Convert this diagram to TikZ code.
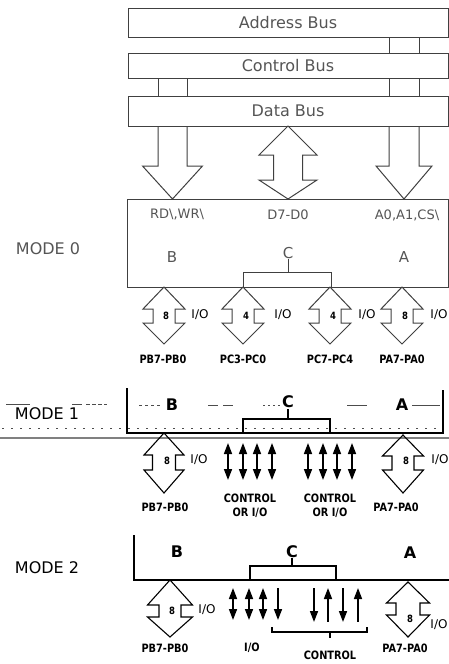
\documentclass[tikz,border=0pt]{standalone}
\usepackage{fontspec}
\setmainfont{DejaVu Sans}
\newfontfamily\condf[FakeStretch=0.85]{DejaVu Sans}
\usetikzlibrary{arrows.meta}
\definecolor{linegray}{HTML}{404040}
\definecolor{txtgray}{HTML}{555555}
\definecolor{sepgray}{HTML}{808080}
\newcommand\bigf{\fontsize{16}{18}\selectfont}
\newcommand\midf{\fontsize{13}{15}\selectfont}
\newcommand\labf{\condf\bfseries\fontsize{11.5}{13}\selectfont}
\newcommand\numf{\condf\bfseries\fontsize{10}{12}\selectfont}
\newcommand\iof{\fontsize{12}{14}\selectfont}
% hollow double arrow: [style]{x}{top}{bot}{head half}{shaft half}{Ltop}{Lbot}
\newcommand\hdbl[8][]{%
  \draw[#1] (#2,#3) -- ({#2+#5},{#3+#7}) -- ({#2+#6},{#3+#7}) -- ({#2+#6},{#4-#8})
   -- ({#2+#5},{#4-#8}) -- (#2,#4) -- ({#2-#5},{#4-#8}) -- ({#2-#6},{#4-#8})
   -- ({#2-#6},{#3+#7}) -- ({#2-#5},{#3+#7}) -- cycle;}
% hollow single down arrow: [style]{x}{top}{bot}{head half}{shaft half}{L}
\newcommand\hdown[7][]{%
  \draw[#1] ({#2-#6},#3) -- ({#2-#6},{#4-#7}) -- ({#2-#5},{#4-#7}) -- (#2,#4)
   -- ({#2+#5},{#4-#7}) -- ({#2+#6},{#4-#7}) -- ({#2+#6},#3);}
\tikzset{
  bus/.style={draw=linegray, line width=1pt, minimum width=320pt, inner sep=0pt, font=\bigf, text=txtgray},
  topline/.style={draw=linegray, line width=1pt, line join=miter},
  botline/.style={draw=black, line width=1.3pt, line join=miter},
  modelab/.style={inner sep=0pt, font=\bigf},
  letter/.style={inner sep=0pt, font=\fontsize{15}{17}\selectfont, text=txtgray},
  bletter/.style={inner sep=0pt, font=\bfseries\fontsize{16}{18}\selectfont},
  pinlab/.style={inner sep=0pt, font=\midf, text=txtgray},
  lab/.style={inner sep=0pt, font=\labf, align=center},
  num/.style={inner sep=0pt, font=\numf},
  io/.style={inner sep=0pt, font=\iof},
  dbl/.style={line width=1.6pt, {Triangle[width=8pt,length=11pt]}-{Triangle[width=8pt,length=11pt]}},
  dn/.style={line width=1.6pt, -{Triangle[width=8pt,length=11pt]}},
  up/.style={line width=1.6pt, {Triangle[width=8pt,length=11pt]}-},
  artefact/.style={draw=black!70, line width=0.6pt},
}
\begin{document}
\begin{tikzpicture}[x=1pt,y=-1pt]
\useasboundingbox (0,0) rectangle (449,664);
\fill[white] (0,0) rectangle (449,664);

% ---------- buses ----------
\node[bus, minimum height=29pt] (addr) at (288,22.5) {Address Bus};
\node[bus, minimum height=25.5pt] (ctrl) at (288,65.75) {Control Bus};
\node[bus, minimum height=30pt] (data) at (288,111) {Data Bus};
\draw[topline] (389,37) -- (389,53) (419,37) -- (419,53);
\draw[topline] (158,78.5) -- (158,96) (187,78.5) -- (187,96)
               (389,78.5) -- (389,96) (419,78.5) -- (419,96);
\hdown[topline]{172.5}{126}{199}{30}{14.5}{33}
\hdown[topline]{404}{126}{199}{28}{15}{33}
\hdbl[topline]{288}{126}{199}{29}{14.5}{29}{19}

% ---------- MODE 0 ----------
\node[modelab, text=txtgray] (m0lab) at (48,249) {MODE 0};
\node[draw=linegray, line width=1pt, minimum width=321pt, minimum height=88pt, inner sep=0pt] (m0) at (287.5,243) {};
\node[pinlab] (rdwr) at (177,215) {RD\textbackslash,WR\textbackslash};
\node[pinlab] (d70) at (288,215) {D7-D0};
\node[pinlab] (a01) at (407,215) {A0,A1,CS\textbackslash};
\node[letter] (m0b) at (172,257) {B};
\node[letter] (m0c) at (288,253) {C};
\node[letter] (m0a) at (404,257) {A};
\draw[topline] (m0c.south) -- (288,272) (243,287) -- (243,272) -- (331,272) -- (331,287);
\hdbl[topline]{164}{287}{344}{21}{11}{22}{21}
\hdbl[topline]{243}{287}{344}{21}{11}{22}{21}
\hdbl[topline]{330}{287}{344}{21}{11}{22}{21}
\hdbl[topline]{402}{287}{344}{21}{11}{22}{21}
\node[num] (n0a) at (166,316) {8};
\node[num] (n0b) at (246,316) {4};
\node[num] (n0c) at (333,316) {4};
\node[num] (n0d) at (405,316) {8};
\node[io] (io0a) at (200,315) {I/O};
\node[io] (io0b) at (283,315) {I/O};
\node[io] (io0c) at (367,315) {I/O};
\node[io] (io0d) at (439,315) {I/O};
\node[lab] (pb0) at (163,359) {PB7-PB0};
\node[lab] (pc30) at (243,359) {PC3-PC0};
\node[lab] (pc74) at (330,359) {PC7-PC4};
\node[lab] (pa0) at (402,359) {PA7-PA0};

% ---------- MODE 1 ----------
\draw[artefact] (6,404) -- (30,404) (72,404) -- (82,404);
\draw[artefact, dash pattern=on 4pt off 2pt] (86,404) -- (107,404);
\draw[artefact, dash pattern=on 3pt off 3pt] (139,405) -- (160,405);
\draw[artefact, dash pattern=on 10pt off 5pt] (208,405) -- (233,405);
\draw[artefact, dash pattern=on 2pt off 3pt] (263,405) -- (280,405);
\draw[artefact] (347,405) -- (367,405) (412,405) -- (440,405);
\draw[artefact, line width=0.5pt, dash pattern=on 2pt off 7pt] (2,428) -- (440,428);
\node[modelab] (m1lab) at (47,414) {MODE 1};
\draw[botline] (127,388) -- (127,433) -- (443,433) -- (443,390);
\draw[sepgray, line width=1.5pt] (0,438) -- (449,438);
\node[bletter, fill=white, inner sep=1pt] (m1b) at (172,405) {B};
\node[bletter, fill=white, inner sep=1pt] (m1c) at (288,402) {C};
\node[bletter, fill=white, inner sep=1pt] (m1a) at (402,405) {A};
\draw[botline, line width=1.1pt] (m1c.south) -- (288,419) (243,433) -- (243,419) -- (330,419) -- (330,433);
\hdbl[line width=1.1pt]{164}{433}{493}{20}{11.5}{22}{23}
\hdbl[line width=1.1pt]{403}{435}{493}{20.5}{11}{21}{23}
\node[num] (n1a) at (167,461) {8};
\node[num] (n1b) at (406,461) {8};
\node[io] (io1a) at (199,460) {I/O};
\node[io] (io1b) at (440,460) {I/O};
\foreach \xx in {228,243,257,272,308,323,337,352}
  \draw[dbl] (\xx,443) -- (\xx,480);
\node[lab] (c1a) at (250,498) {CONTROL};
\node[lab] (o1a) at (250,513) {OR I/O};
\node[lab] (c1b) at (330,498) {CONTROL};
\node[lab] (o1b) at (330,513) {OR I/O};
\node[lab] (pb1) at (165,507) {PB7-PB0};
\node[lab] (pa1) at (396,507) {PA7-PA0};

% ---------- MODE 2 ----------
\node[modelab] (m2lab) at (47,568) {MODE 2};
\draw[botline] (134,535) -- (134,580) -- (449,580);
\node[bletter] (m2b) at (177,552) {B};
\node[bletter] (m2c) at (292,552) {C};
\node[bletter] (m2a) at (410,553) {A};
\draw[botline, line width=1.1pt] (m2c.south) -- (292,566) (250,580) -- (250,566) -- (336,566) -- (336,580);
\hdbl[line width=1.1pt]{170}{580}{637}{22.5}{11}{25}{20}
\hdbl[line width=1.1pt]{408}{582}{637}{21.5}{12}{21}{22}
\node[num] (n2a) at (172,611) {8};
\node[num] (n2b) at (410,619) {8};
\node[io] (io2a) at (207,610) {I/O};
\node[io] (io2b) at (439,625) {I/O};
\foreach \xx in {233,249,263}
  \draw[dbl] (\xx,588) -- (\xx,620);
\draw[dn] (278,588) -- (278,620);
\draw[dn] (314,588) -- (314,622);
\draw[up] (328,588) -- (328,622);
\draw[dn] (343,588) -- (343,622);
\draw[up] (358,588) -- (358,622);
\draw[line width=1.1pt] (272,627) -- (272,632) -- (367,632) -- (367,627) (330,632) -- (330,638);
\node[lab] (io2c) at (252,648) {I/O};
\node[lab] (ctl2) at (330,655) {CONTROL};
\node[lab] (pb2) at (165,648) {PB7-PB0};
\node[lab] (pa2) at (405,648) {PA7-PA0};
\end{tikzpicture}
\end{document}
